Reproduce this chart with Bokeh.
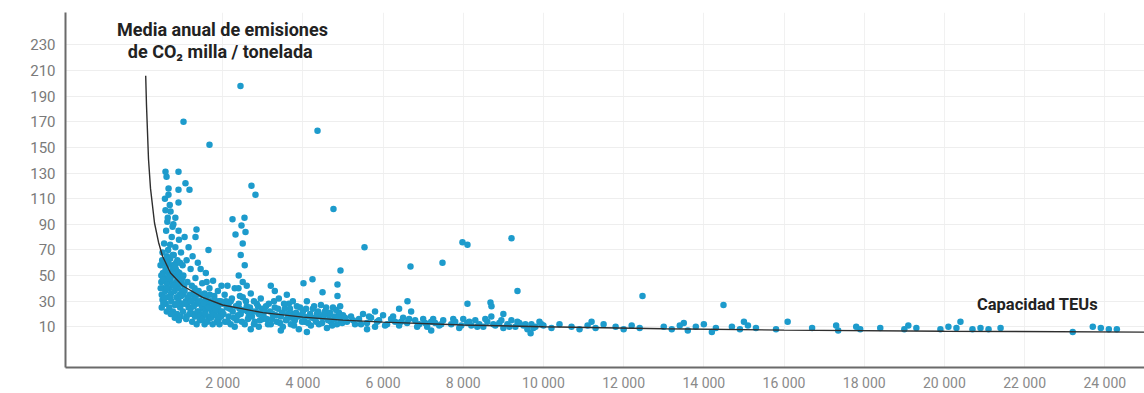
from bokeh.plotting import figure
from bokeh.models import Label, FixedTicker, Range1d
from bokeh.embed import file_html
from bokeh.resources import INLINE

# ---- data ----
x_ticks = [2000, 4000, 6000, 8000, 10000, 12000, 14000, 16000, 18000, 20000, 22000, 24000]
x_tick_labels = ["2 000", "4 000", "6 000", "8 000", "10 000", "12 000", "14 000",
                 "16 000", "18 000", "20 000", "22 000", "24 000"]
y_ticks = [10, 30, 50, 70, 90, 110, 130, 150, 170, 190, 210, 230]

# trend line (media anual)
trend_teu = [80, 100, 150, 200, 300, 400, 500, 700, 1000, 1500, 2000, 3000, 4000, 5000,
             6000, 8000, 10000, 13000, 16000, 20000, 25000]
trend_co2 = [206, 183, 141, 118, 91, 76, 65, 52, 42, 33, 27, 21, 17.5, 15.2,
             13.6, 11.4, 10, 8.5, 7.4, 6.5, 5.8]

ship_teu = [
    # 450 - 1000 TEU
    450, 470, 480, 500, 510, 520, 530, 540, 550, 560, 570, 580, 590, 600, 610, 620, 630, 640,
    650, 660, 670, 680, 690, 700, 710, 720, 730, 740, 750, 760, 770, 780, 790, 800, 810, 820,
    830, 840, 850, 860, 870, 880, 890, 900, 910, 920, 930, 940, 950, 960, 970, 980, 990, 1000,
    560, 600, 650, 700, 620, 750, 820, 900, 574, 898, 1072, 1172, 898, 648, 898, 574, 1023,
    1347, 1322, 1646, 500, 520, 480, 470, 530, 610, 690, 760, 840, 930,
    455, 490, 515, 545, 575, 605, 635, 665, 695, 725, 755, 785, 815, 845, 875, 905, 935, 965,
    995, 605, 705, 805, 905, 1005,
    # 1000 - 2000 TEU
    1020, 1050, 1080, 1100, 1120, 1150, 1180, 1200, 1230, 1260, 1290, 1320, 1350, 1380, 1400,
    1430, 1460, 1490, 1520, 1550, 1580, 1610, 1640, 1670, 1700, 1730, 1760, 1790, 1820, 1850,
    1880, 1910, 1940, 1970, 2000, 1100, 1250, 1350, 1450, 1550, 1750, 1900, 1150, 1300, 1600,
    1050, 1671, 1200, 1400, 1700, 1800, 1960, 1120, 1330, 1480, 1040, 1160, 1270, 1420, 1570,
    1010, 1060, 1090, 1130, 1170, 1210, 1240, 1280, 1310, 1340, 1370, 1410, 1440, 1470, 1500,
    1530, 1560, 1590, 1620, 1650, 1680, 1710, 1740, 1770, 1800, 1830, 1860, 1890, 1920, 1950,
    1980,
    # 2000 - 3000 TEU
    2050, 2100, 2150, 2200, 2250, 2300, 2350, 2400, 2450, 2500, 2550, 2600, 2650, 2700, 2750,
    2800, 2850, 2900, 2950, 3000, 2245, 2544, 2469, 2569, 2320, 2500, 2450, 2550, 2400, 2500,
    2600, 2444, 2718, 2818, 2394, 2120, 2700, 2300, 2200, 2900, 2060, 2420, 2620, 2780, 2150,
    2020, 2080, 2130, 2180, 2230, 2280, 2330, 2380, 2430, 2480, 2530, 2580, 2630, 2680, 2730,
    2780, 2830, 2880, 2930, 2980,
    # 3000 - 5000 TEU
    3050, 3100, 3150, 3200, 3250, 3300, 3350, 3400, 3450, 3500, 3550, 3600, 3650, 3700, 3750,
    3800, 3850, 3900, 3950, 4000, 4050, 4100, 4150, 4200, 4250, 4300, 4350, 4400, 4450, 4500,
    4550, 4600, 4650, 4700, 4750, 4800, 4850, 4900, 4950, 5000, 4365, 4763, 4938, 4240, 4015,
    4863, 4863, 4490, 3300, 3600, 3200, 3750, 4100, 3450,
    3020, 3080, 3130, 3180, 3230, 3280, 3330, 3380, 3430, 3480, 3530, 3580, 3630, 3680, 3730,
    3780, 3830, 3880, 3930, 3980, 4030, 4080, 4130, 4180, 4230, 4280, 4330, 4380, 4430, 4480,
    4530, 4580, 4630, 4680, 4730, 4780, 4830, 4880, 4930, 4980,
    # 5000 - 10000 TEU
    5100, 5200, 5300, 5400, 5500, 5600, 5700, 5800, 5900, 6000, 6100, 6200, 6300, 6400, 6500,
    6600, 6700, 6800, 6900, 7000, 7100, 7200, 7300, 7400, 7500, 7700, 7800, 7900, 8000, 8100,
    8200, 8300, 8400, 8500, 8600, 8700, 8800, 8900, 9000, 9100, 9200, 9300, 9400, 9500, 9600,
    9700, 9800, 9900, 10000, 5537, 6684, 7482, 7980, 8105, 9203, 9352, 8679, 6609, 8105, 8704,
    6400, 5800, 9000, 7200, 5600, 9680,
    5050, 5250, 5450, 5650, 5850, 6050, 6250, 6450, 6650, 6850, 7050, 7250, 7450, 7750, 7950,
    8150, 8350, 8550, 8750, 8950, 9150, 9350, 9550, 9750, 9950,
    # 10000 - 25000 TEU
    10200, 10400, 10700, 10900, 11100, 11300, 11500, 11800, 12000, 12200, 12400, 12470, 13000,
    13200, 13400, 13600, 13800, 14000, 14200, 14300, 14490, 14700, 14900, 15100, 15300, 15800,
    16090, 16700, 17300, 17350, 17800, 17900, 18400, 19000, 19100, 19300, 19900, 20100, 20300,
    20400, 20700, 20900, 21100, 21400, 23200, 23700, 23900, 24100, 24300, 15000, 11200, 13500,
]
ship_co2 = [
    # 450 - 1000 TEU
    58, 45, 35, 68, 52, 40, 30, 75, 62, 48, 38, 28, 85, 56, 44, 33, 95, 70,
    52, 40, 25, 105, 63, 47, 36, 30, 80, 58, 43, 22, 90, 66, 50, 38, 27, 72,
    55, 45, 33, 20, 62, 48, 40, 30, 78, 52, 35, 25, 18, 68, 45, 38, 28, 58,
    110, 127, 118, 100, 92, 88, 95, 85, 131, 131, 122, 117, 117, 113, 107, 101, 170,
    86, 80, 70, 31, 28, 25, 50, 60, 65, 74, 55, 60, 48,
    40, 62, 47, 33, 55, 40, 60, 48, 33, 52, 66, 42, 58, 28, 53, 44, 60, 34,
    48, 22, 20, 17, 15, 35,
    # 1000 - 2000 TEU
    50, 38, 30, 62, 45, 25, 35, 55, 42, 20, 32, 48, 28, 60, 38,
    15, 30, 44, 24, 36, 52, 28, 18, 40, 30, 22, 46, 34, 26, 14,
    38, 30, 22, 42, 28, 18, 65, 12, 55, 12, 12, 16, 72, 40, 45,
    80, 152, 24, 22, 24, 20, 18, 28, 34, 26, 42, 30, 36, 20, 22,
    22, 28, 16, 33, 20, 30, 14, 26, 18, 36, 22, 30, 19, 35, 16,
    28, 20, 32, 14, 25, 35, 17, 28, 20, 31, 23, 18, 26, 12, 30,
    22,
    # 2000 - 3000 TEU
    35, 25, 18, 30, 22, 40, 15, 28, 20, 33, 12, 26, 18, 36, 22,
    14, 28, 20, 32, 16, 94, 95, 89, 84, 82, 75, 66, 58, 50, 45,
    42, 198, 120, 113, 40, 42, 8, 10, 12, 10, 14, 24, 22, 30, 28,
    20, 30, 14, 24, 32, 17, 26, 19, 34, 14, 23, 30, 16, 25, 18,
    12, 22, 26, 15, 24,
    # 3000 - 5000 TEU
    22, 16, 28, 12, 20, 25, 14, 32, 18, 10, 24, 16, 28, 12, 20,
    15, 26, 8, 19, 22, 14, 30, 18, 11, 24, 16, 20, 12, 27, 17,
    22, 9, 19, 14, 25, 18, 12, 21, 15, 19, 163, 102, 54, 47, 44,
    43, 34, 37, 38, 35, 42, 30, 6, 7,
    18, 26, 12, 22, 16, 30, 19, 24, 13, 21, 28, 15, 20, 24, 17,
    11, 21, 18, 25, 14, 18, 24, 13, 20, 17, 26, 14, 22, 18, 13,
    20, 25, 15, 21, 11, 16, 23, 17, 26, 13,
    # 5000 - 10000 TEU
    14, 18, 12, 16, 20, 13, 17, 10, 15, 19, 12, 16, 14, 11, 17,
    13, 22, 15, 12, 16, 10, 14, 13, 11, 15, 12, 14, 9, 16, 13,
    11, 15, 12, 10, 14, 18, 11, 13, 9, 12, 15, 10, 13, 11, 8,
    12, 10, 14, 11, 72, 57, 60, 76, 74, 79, 38, 29, 30, 28, 26,
    24, 22, 20, 7, 8, 5,
    17, 15, 12, 18, 14, 11, 18, 14, 16, 10, 13, 16, 12, 16, 11,
    14, 10, 16, 12, 15, 10, 14, 12, 9, 12,
    # 10000 - 25000 TEU
    9, 12, 10, 8, 11, 9, 12, 10, 8, 11, 9, 34, 10,
    8, 11, 7, 10, 12, 6, 9, 27, 10, 8, 11, 9, 8,
    14, 9, 11, 7, 10, 8, 9, 8, 11, 9, 8, 10, 9,
    14, 8, 9, 8, 9, 6, 10, 9, 8, 8, 14, 14, 13,
]

# ---- figure ----
p = figure(width=1144, height=393, output_backend="svg", toolbar_location=None,
           x_range=Range1d(-1920, 24990), y_range=Range1d(-21.8, 255.3),
           min_border_left=65, min_border_right=0, min_border_top=12, min_border_bottom=25)
p.outline_line_color = None
p.background_fill_color = "white"

p.xgrid.ticker = FixedTicker(ticks=x_ticks)
p.ygrid.ticker = FixedTicker(ticks=y_ticks)
p.xgrid.grid_line_color = "#f1f1f1"
p.ygrid.grid_line_color = "#eeeeee"

for ax in (p.xaxis[0], p.yaxis[0]):
    ax.axis_line_color = "#6a6a6a"
    ax.axis_line_width = 2
    ax.major_tick_line_color = None
    ax.minor_tick_line_color = None
    ax.major_tick_out = 0
    ax.major_tick_in = 0
    ax.minor_tick_out = 0
    ax.minor_tick_in = 0
    ax.major_label_text_font = "Roboto"

p.xaxis[0].ticker = FixedTicker(ticks=x_ticks)
p.xaxis[0].major_label_overrides = {t: l for t, l in zip(x_ticks, x_tick_labels)}
p.xaxis[0].major_label_text_font_size = "14px"
p.xaxis[0].major_label_text_color = "#8a8a8a"
p.xaxis[0].major_label_standoff = 7
p.yaxis[0].ticker = FixedTicker(ticks=y_ticks)
p.yaxis[0].major_label_text_font_size = "15px"
p.yaxis[0].major_label_text_color = "#7a7a7a"
p.yaxis[0].major_label_standoff = 10

p.scatter(ship_teu, ship_co2, size=6.5, color="#1d9bcc", line_color=None)
p.line(trend_teu, trend_co2, line_color="#2e2e2e", line_width=1.4)

p.add_layout(Label(x=157, y=338, x_units="screen", y_units="screen",
                   text="Media anual de emisiones", text_align="center",
                   text_baseline="middle", text_font="Roboto", text_font_style="bold",
                   text_font_size="18px", text_color="#222222"))
p.add_layout(Label(x=157, y=316, x_units="screen", y_units="screen",
                   text="de CO\u2082  milla / tonelada", text_align="center",
                   text_baseline="middle", text_font="Roboto", text_font_style="bold",
                   text_font_size="18px", text_color="#222222"))
p.add_layout(Label(x=972, y=63, x_units="screen", y_units="screen",
                   text="Capacidad TEUs", text_align="center",
                   text_baseline="middle", text_font="Roboto", text_font_style="bold",
                   text_font_size="16.5px", text_color="#222222"))

open("out.html", "w").write(file_html(p, INLINE))
